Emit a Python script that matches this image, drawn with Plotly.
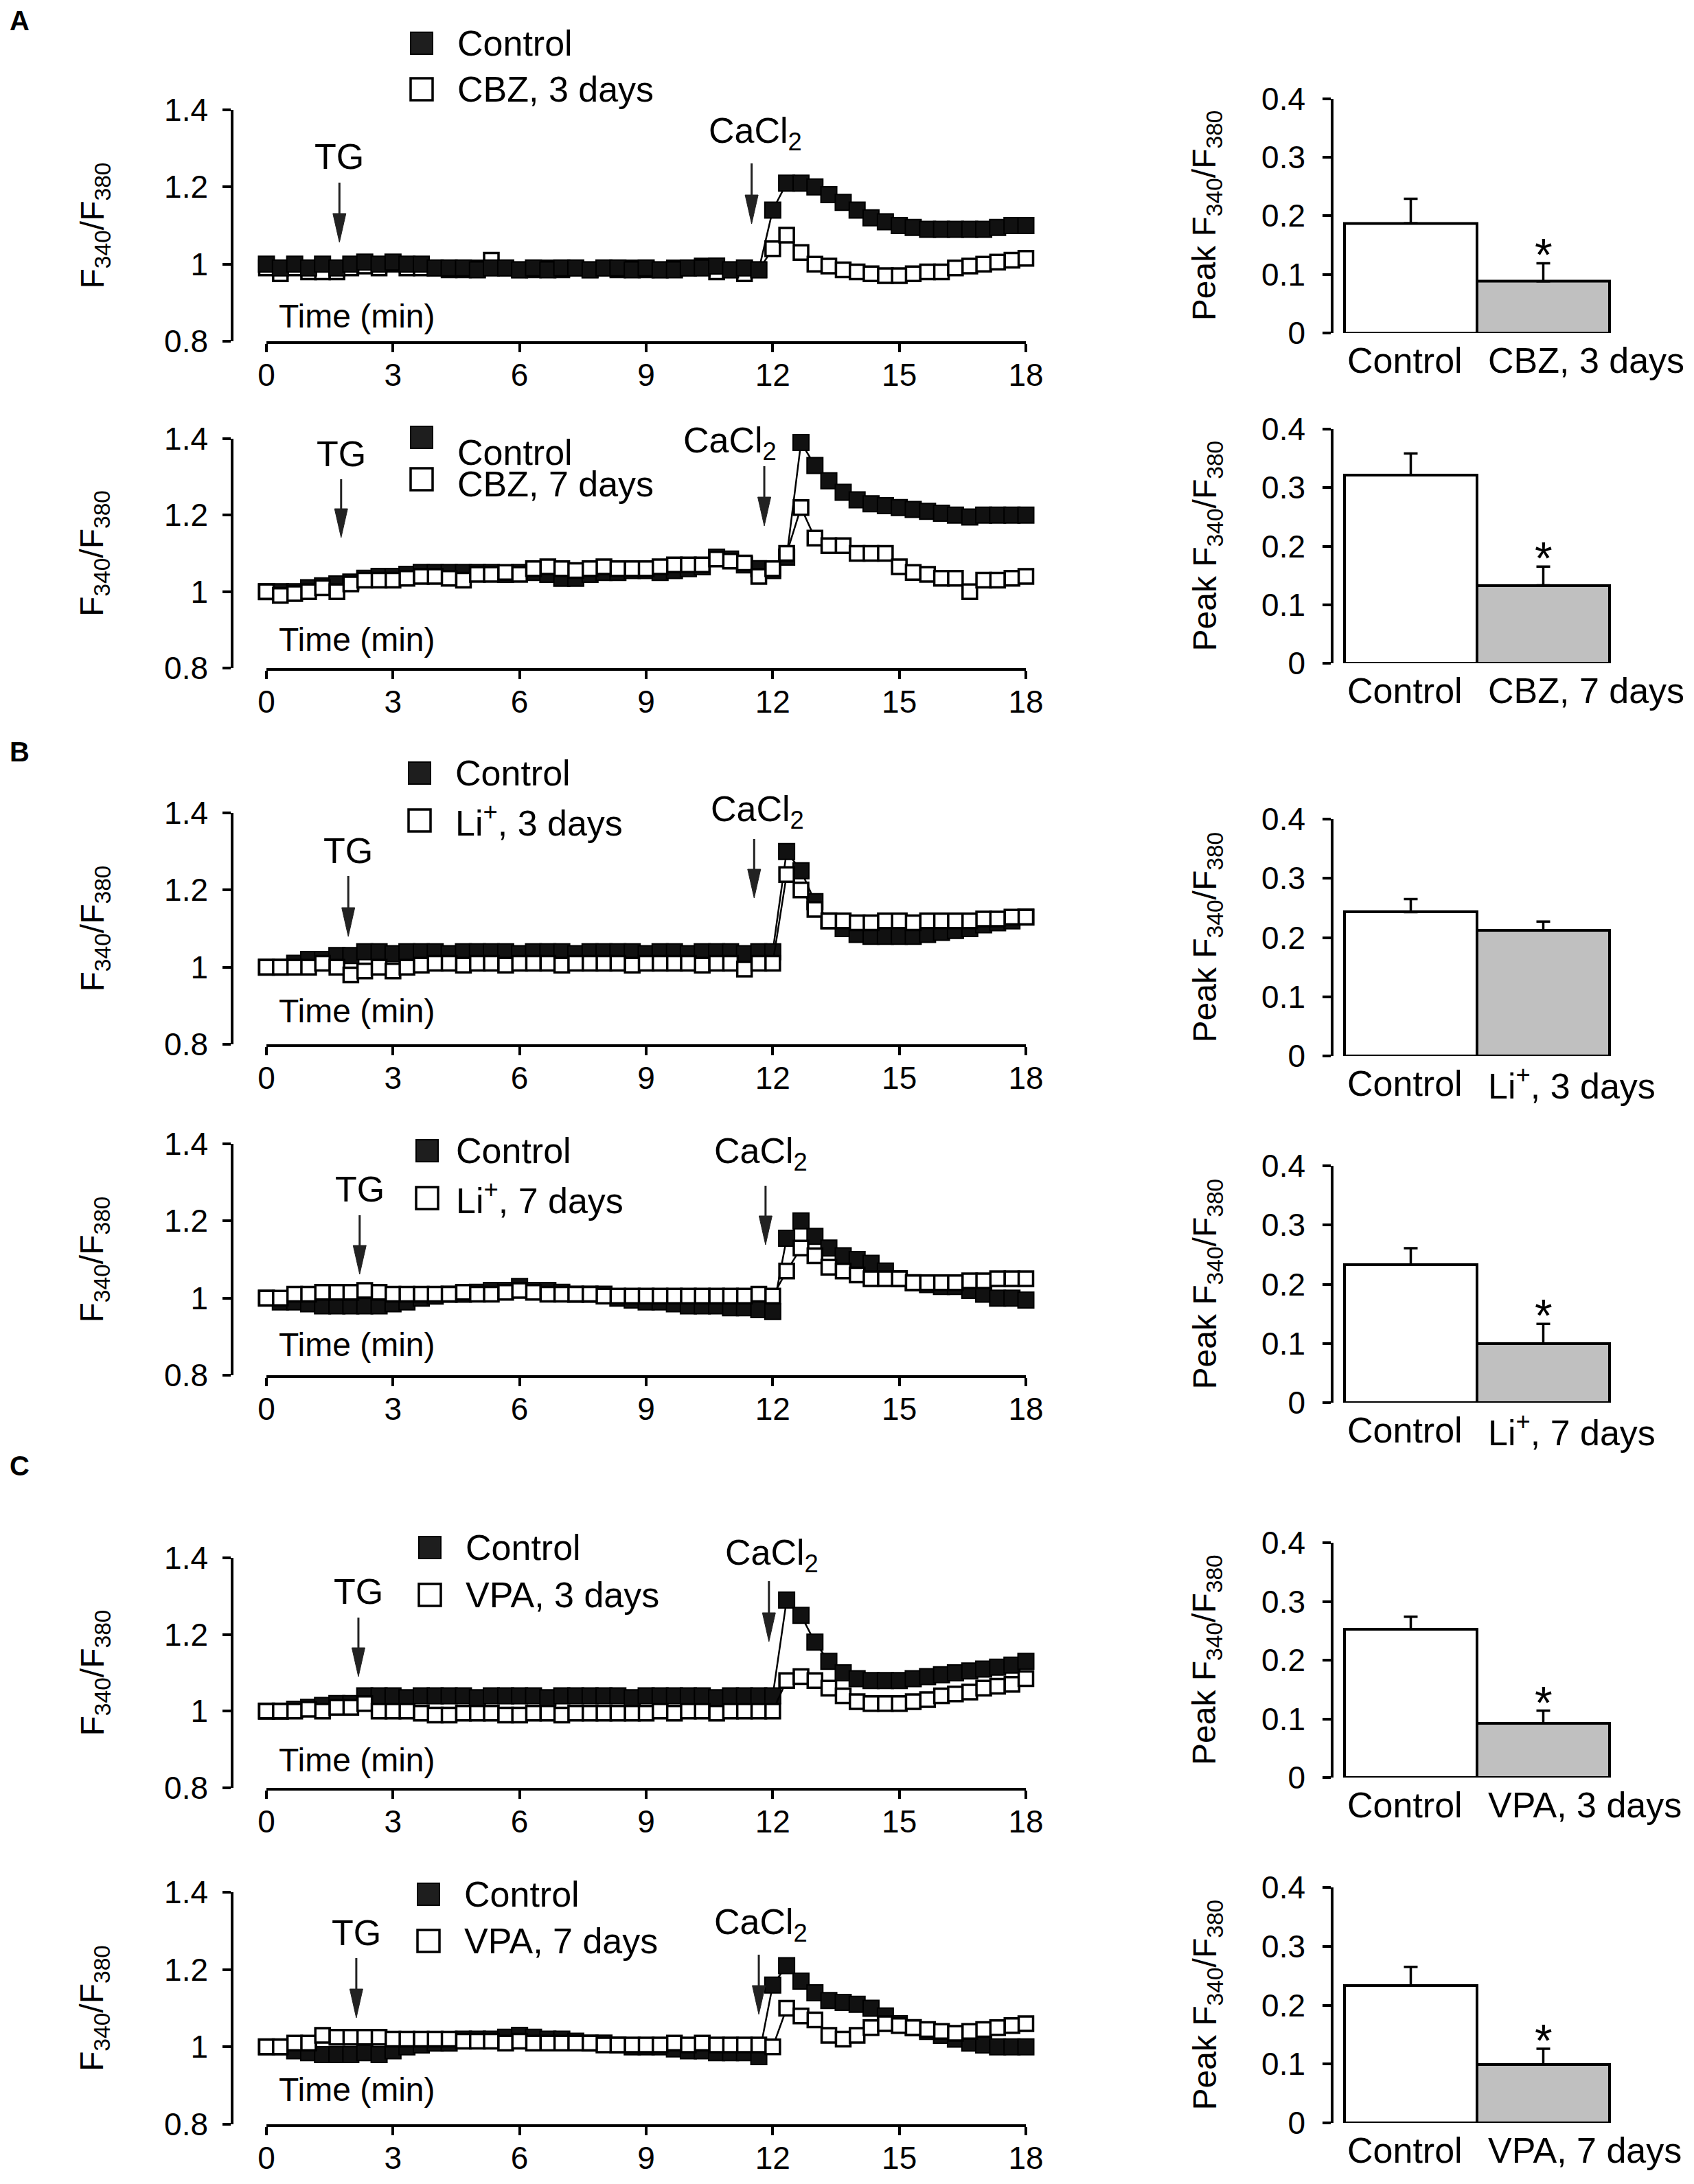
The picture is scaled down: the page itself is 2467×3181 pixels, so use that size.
import plotly.graph_objects as go

W, H = 2467, 3181
FONT = "Arial, Liberation Sans, sans-serif"

# sample times (min)
TIME = [0, 0.33, 0.67, 1, 1.33, 1.67, 2, 2.33, 2.67, 3, 3.33, 3.67, 4, 4.33, 4.67,
        5, 5.33, 5.67, 6, 6.33, 6.67, 7, 7.33, 7.67, 8, 8.33, 8.67, 9, 9.33, 9.67,
        10, 10.33, 10.67, 11, 11.33, 11.67, 12, 12.33, 12.67, 13, 13.33, 13.67, 14,
        14.33, 14.67, 15, 15.33, 15.67, 16, 16.33, 16.67, 17, 17.33, 17.67, 18, 18.33]

A1_CONTROL = [1.0, 0.99, 1.0, 0.99, 1.0, 0.99, 1.0, 1.005, 1.0, 1.005, 1.0, 1.0,
              0.99, 0.99, 0.99, 0.985, 0.99, 0.99, 0.985, 0.99, 0.985, 0.99, 0.99, 0.985,
              0.99, 0.99, 0.985, 0.99, 0.985, 0.985, 0.99, 0.99, 0.995, 0.985, 0.99, 0.985,
              1.14, 1.21, 1.21, 1.2, 1.18, 1.16, 1.14, 1.12, 1.11, 1.1, 1.095, 1.09, 1.09,
              1.09, 1.09, 1.09, 1.095, 1.1, 1.1, 1.105]
A1_DRUG = [0.99, 0.975, 0.99, 0.98, 0.98, 0.98, 0.99, 0.995, 0.99, 1.0, 0.99, 0.99,
           0.99, 0.985, 0.985, 0.99, 1.01, 0.99, 0.985, 0.985, 0.99, 0.985, 0.99, 0.985,
           0.99, 0.985, 0.99, 0.985, 0.985, 0.99, 0.99, 0.995, 0.98, 0.985, 0.975, 0.985,
           1.04, 1.075, 1.03, 1.0, 0.995, 0.985, 0.98, 0.975, 0.97, 0.97, 0.975, 0.98, 0.98,
           0.99, 0.995, 1.0, 1.005, 1.01, 1.015, 1.02]

A2_CONTROL = [1.0, 1.0, 1.0, 1.01, 1.015, 1.02, 1.025, 1.035, 1.04, 1.04, 1.045, 1.05,
              1.05, 1.05, 1.05, 1.05, 1.05, 1.045, 1.05, 1.05, 1.045, 1.035, 1.035, 1.045,
              1.05, 1.05, 1.055, 1.055, 1.05, 1.055, 1.06, 1.065, 1.09, 1.085, 1.07, 1.06,
              1.055, 1.09, 1.39, 1.33, 1.29, 1.26, 1.24, 1.23, 1.225, 1.22, 1.215, 1.21,
              1.205, 1.2, 1.195, 1.2, 1.2, 1.2, 1.2, 1.2]
A2_DRUG = [1.0, 0.99, 0.995, 1.0, 1.01, 1.0, 1.02, 1.03, 1.03, 1.03, 1.035, 1.04,
           1.04, 1.035, 1.03, 1.045, 1.045, 1.05, 1.045, 1.06, 1.065, 1.06, 1.055, 1.06,
           1.065, 1.06, 1.06, 1.06, 1.065, 1.07, 1.07, 1.07, 1.085, 1.08, 1.075, 1.04,
           1.06, 1.1, 1.22, 1.14, 1.12, 1.12, 1.1, 1.1, 1.1, 1.065, 1.05, 1.045, 1.035,
           1.035, 1.0, 1.03, 1.03, 1.035, 1.04, 1.045]

B1_CONTROL = [1.0, 1.0, 1.01, 1.02, 1.02, 1.03, 1.03, 1.04, 1.04, 1.035, 1.04, 1.04,
              1.04, 1.035, 1.04, 1.04, 1.04, 1.04, 1.035, 1.04, 1.04, 1.04, 1.035, 1.04,
              1.04, 1.04, 1.04, 1.035, 1.04, 1.04, 1.035, 1.04, 1.04, 1.04, 1.035, 1.04,
              1.04, 1.3, 1.25, 1.17, 1.12, 1.1, 1.085, 1.08, 1.08, 1.08, 1.08, 1.085, 1.09,
              1.095, 1.1, 1.11, 1.115, 1.12, 1.13, 1.14]
B1_DRUG = [1.0, 1.0, 1.0, 1.0, 1.01, 1.0, 0.98, 0.99, 1.0, 0.99, 1.0, 1.005,
           1.01, 1.01, 1.005, 1.01, 1.01, 1.005, 1.01, 1.01, 1.01, 1.005, 1.01, 1.01,
           1.01, 1.01, 1.005, 1.01, 1.01, 1.01, 1.01, 1.005, 1.01, 1.01, 0.995, 1.01,
           1.01, 1.24, 1.2, 1.15, 1.12, 1.12, 1.115, 1.115, 1.12, 1.12, 1.115, 1.12, 1.12,
           1.12, 1.12, 1.125, 1.125, 1.13, 1.13, 1.135]

B2_CONTROL = [1.0, 0.99, 0.99, 0.985, 0.98, 0.98, 0.98, 0.98, 0.98, 0.985, 0.99, 1.0,
              1.005, 1.01, 1.01, 1.015, 1.02, 1.02, 1.03, 1.02, 1.02, 1.015, 1.01, 1.01,
              1.01, 1.0, 0.995, 0.99, 0.99, 0.985, 0.98, 0.98, 0.98, 0.975, 0.975, 0.97,
              0.965, 1.155, 1.2, 1.16, 1.13, 1.11, 1.1, 1.09, 1.07, 1.05, 1.04, 1.035, 1.03,
              1.03, 1.02, 1.01, 1.0, 1.0, 0.995, 0.98]
B2_DRUG = [1.0, 1.0, 1.01, 1.01, 1.015, 1.015, 1.015, 1.02, 1.015, 1.01, 1.01, 1.01,
           1.01, 1.01, 1.015, 1.01, 1.01, 1.015, 1.02, 1.015, 1.01, 1.01, 1.01, 1.01,
           1.005, 1.005, 1.005, 1.005, 1.005, 1.005, 1.005, 1.005, 1.005, 1.005, 1.005, 1.01,
           1.005, 1.07, 1.13, 1.11, 1.08, 1.07, 1.06, 1.05, 1.05, 1.05, 1.04, 1.04, 1.04,
           1.04, 1.045, 1.045, 1.05, 1.05, 1.05, 1.055]

C1_CONTROL = [1.0, 1.0, 1.005, 1.01, 1.015, 1.02, 1.02, 1.04, 1.04, 1.04, 1.035, 1.04,
              1.04, 1.04, 1.04, 1.035, 1.04, 1.04, 1.04, 1.04, 1.035, 1.04, 1.04, 1.04,
              1.04, 1.04, 1.035, 1.04, 1.04, 1.04, 1.04, 1.04, 1.035, 1.04, 1.04, 1.04,
              1.04, 1.29, 1.25, 1.18, 1.13, 1.1, 1.085, 1.08, 1.08, 1.08, 1.085, 1.09, 1.095,
              1.1, 1.105, 1.11, 1.115, 1.12, 1.13, 1.14]
C1_DRUG = [1.0, 1.0, 1.0, 1.005, 1.0, 1.01, 1.01, 1.02, 1.0, 1.0, 1.0, 0.995,
           0.99, 0.99, 0.995, 0.995, 0.995, 0.99, 0.99, 0.995, 0.995, 0.99, 0.995, 0.995,
           0.995, 0.995, 0.995, 0.995, 1.0, 0.995, 1.0, 1.0, 0.995, 1.0, 1.0, 1.0,
           1.0, 1.08, 1.09, 1.08, 1.06, 1.04, 1.025, 1.02, 1.02, 1.02, 1.025, 1.03, 1.04,
           1.045, 1.05, 1.06, 1.065, 1.07, 1.085, 1.095]

C2_CONTROL = [1.0, 1.0, 0.99, 0.985, 0.98, 0.98, 0.98, 0.985, 0.98, 0.99, 1.0, 1.005,
              1.01, 1.01, 1.02, 1.02, 1.02, 1.025, 1.03, 1.025, 1.02, 1.02, 1.015, 1.01,
              1.01, 1.005, 1.0, 1.0, 1.0, 0.995, 0.99, 0.99, 0.985, 0.985, 0.985, 0.975,
              1.16, 1.21, 1.17, 1.14, 1.12, 1.115, 1.11, 1.1, 1.08, 1.06, 1.05, 1.04, 1.03,
              1.02, 1.01, 1.005, 1.0, 1.0, 1.0, 0.985]
C2_DRUG = [1.0, 1.0, 1.01, 1.01, 1.03, 1.025, 1.025, 1.025, 1.025, 1.02, 1.02, 1.02,
           1.02, 1.02, 1.015, 1.015, 1.015, 1.01, 1.015, 1.01, 1.01, 1.01, 1.01, 1.01,
           1.005, 1.005, 1.005, 1.005, 1.005, 1.01, 1.005, 1.01, 1.005, 1.005, 1.005, 1.005,
           1.0, 1.1, 1.08, 1.07, 1.03, 1.02, 1.03, 1.05, 1.06, 1.055, 1.05, 1.045, 1.04,
           1.035, 1.04, 1.045, 1.05, 1.055, 1.06, 1.07]

CONTROLS = [A1_CONTROL, A2_CONTROL, B1_CONTROL, B2_CONTROL, C1_CONTROL, C2_CONTROL]
DRUGS = [A1_DRUG, A2_DRUG, B1_DRUG, B2_DRUG, C1_DRUG, C2_DRUG]
DRUG_LABELS = ["CBZ, 3 days", "CBZ, 7 days", "Li<sup>+</sup>, 3 days",
               "Li<sup>+</sup>, 7 days", "VPA, 3 days", "VPA, 7 days"]
CONTROL_ON_TOP = [True, False, False, False, False, False]

# time of TG / CaCl2 additions (min)
TG_TIME = [1.73, 1.77, 1.94, 2.21, 2.18, 2.13]
CA_TIME = [11.5, 11.8, 11.56, 11.83, 11.91, 11.67]

# peak F340/F380 (mean, SEM)
PEAK_CONTROL = [0.187, 0.3215, 0.243, 0.233, 0.253, 0.233]
PEAK_DRUG = [0.088, 0.133, 0.212, 0.100, 0.092, 0.099]
SEM_CONTROL = [0.042, 0.037, 0.022, 0.028, 0.021, 0.032]
SEM_DRUG = [0.031, 0.032, 0.015, 0.033, 0.022, 0.027]
SIGNIFICANT = [True, True, False, True, True, True]

X_TICKS = [0, 3, 6, 9, 12, 15, 18]
Y_TICKS = [0.8, 1, 1.2, 1.4]
Y_TICK_TEXT = ["0.8", "1", "1.2", "1.4"]
BAR_TICKS = [0, 0.1, 0.2, 0.3, 0.4]
BAR_TICK_TEXT = ["0", "0.1", "0.2", "0.3", "0.4"]

# layout, in pixels of the full figure
LINE_TOP = [160, 639, 1184, 1666, 2269, 2756]
LINE_BOTTOM = [497, 973, 1521, 2003, 2604, 3094]
BAR_TOP = [143.5, 625, 1193, 1698, 2247, 2749]
BAR_BOTTOM = [485, 966, 1538, 2043, 2589, 3092]
TG_ARROW = [(266, 353), (698, 783), (1276, 1364), (1770, 1856), (2356, 2442), (2852, 2939)]
CA_ARROW = [(238, 326), (679, 766), (1222, 1308), (1727, 1813), (2303, 2391), (2847, 2934)]
TG_TEXT = [(494, 228), (497, 661), (507, 1239), (524, 1732), (522, 2318), (519, 2815)]
CA_TEXT = [(1100, 194), (1063, 645), (1103, 1182), (1108, 1680), (1124, 2265), (1108, 2803)]
LEG_MARK = [((614, 63), (614, 130)), ((614, 637), (614, 698)), ((611, 1126), (611, 1195)),
            ((622, 1676), (622, 1745)), ((626, 2254), (626, 2323)), ((624, 2759), (624, 2827))]
LEG_TEXT = [(664, 63, 130), (664, 659, 705), (661, 1126, 1195), (662, 1676, 1745),
            (676, 2254, 2323), (674, 2759, 2827)]
TIME_Y = [461, 931, 1472, 1958, 2563, 3043]

LX0, LX1, LYAX = 388, 1494, 338
BX0, BX1 = 1942, 2360
PX_PER_MIN = (LX1 - LX0) / 18.0


def fx(px):
    return px / W


def fy(py):
    return 1 - py / H


fig = go.Figure()
layout = {}
annotations = []
shapes = []

axis_style = dict(showline=True, linewidth=3.5, linecolor="black", ticks="outside",
                  ticklen=12, tickwidth=3.5, tickcolor="black", showgrid=False,
                  zeroline=False, automargin=False,
                  tickfont=dict(size=46, color="black", family=FONT))


def text(x, y, s, size=50, **kw):
    d = dict(x=x, y=y, xref="paper", yref="paper", text=s, showarrow=False,
             xanchor="center", yanchor="middle",
             font=dict(size=size, color="black", family=FONT))
    d.update(kw)
    annotations.append(d)


for i in range(6):
    n1, n2 = 2 * i + 1, 2 * i + 2
    lx, ly = ("x" if n1 == 1 else f"x{n1}"), ("y" if n1 == 1 else f"y{n1}")
    bx, by = f"x{n2}", f"y{n2}"
    top, bot = LINE_TOP[i], LINE_BOTTOM[i]
    y_per_px = 0.6 / (bot - top)

    ctrl = go.Scatter(x=TIME, y=CONTROLS[i], xaxis=lx, yaxis=ly, mode="lines+markers",
                      cliponaxis=False, showlegend=False,
                      line=dict(color="black", width=2.5),
                      marker=dict(symbol="square", size=23, color="#111111",
                                  line=dict(color="black", width=2)))
    drug = go.Scatter(x=TIME, y=DRUGS[i], xaxis=lx, yaxis=ly, mode="lines+markers",
                      cliponaxis=False, showlegend=False,
                      line=dict(color="black", width=2.5),
                      marker=dict(symbol="square", size=21, color="white",
                                  line=dict(color="black", width=3.5)))
    if CONTROL_ON_TOP[i]:
        fig.add_trace(drug)
        fig.add_trace(ctrl)
    else:
        fig.add_trace(ctrl)
        fig.add_trace(drug)

    layout["xaxis" if n1 == 1 else f"xaxis{n1}"] = dict(
        axis_style, domain=[fx(LX0), fx(LX1)], range=[0, 18], anchor=ly,
        tickvals=X_TICKS, ticklabelstandoff=-6)
    layout["yaxis" if n1 == 1 else f"yaxis{n1}"] = dict(
        axis_style, domain=[fy(bot), fy(top)], range=[0.8, 1.4], anchor="free",
        position=fx(LYAX), tickvals=Y_TICKS, ticktext=Y_TICK_TEXT, ticklabelstandoff=12)

    # arrows (TG and CaCl2)
    for t, (p_top, p_tip) in ((TG_TIME[i], TG_ARROW[i]), (CA_TIME[i], CA_ARROW[i])):
        y_top = 1.4 - (p_top - top) * y_per_px
        y_tip = 1.4 - (p_tip - top) * y_per_px
        y_base = y_tip + 42 * y_per_px
        hw = 9.5 / PX_PER_MIN
        shapes.append(dict(type="line", xref=lx, yref=ly, x0=t, x1=t, y0=y_top, y1=y_base,
                           line=dict(color="#222", width=3)))
        shapes.append(dict(type="path", xref=lx, yref=ly, fillcolor="#222",
                           line=dict(color="#222", width=1),
                           path=f"M {t - hw},{y_base} L {t + hw},{y_base} L {t},{y_tip} Z"))
    text(fx(TG_TEXT[i][0]), fy(TG_TEXT[i][1]), "TG", 52)
    text(fx(CA_TEXT[i][0]), fy(CA_TEXT[i][1]), "CaCl<sub>2</sub>", 52)

    # legend
    (c1, c2) = LEG_MARK[i]
    for (cx, cy), fill, lw in ((c1, "#1e1e1e", 2), (c2, "white", 3.5)):
        shapes.append(dict(type="rect", xref="paper", yref="paper",
                           x0=fx(cx - 16), x1=fx(cx + 16), y0=fy(cy + 16), y1=fy(cy - 16),
                           fillcolor=fill, line=dict(color="black", width=lw)))
    tx, ty1, ty2 = LEG_TEXT[i]
    text(fx(tx), fy(ty1), "Control", 52, xanchor="left")
    text(fx(tx), fy(ty2), DRUG_LABELS[i], 52, xanchor="left")

    text(fx(404), fy(TIME_Y[i]), "Time (min)", 48, xanchor="left")
    text(fx(137), fy((top + bot) / 2), "F<sub>340</sub>/F<sub>380</sub>", 48, textangle=-90)

    # bar chart
    btop, bbot = BAR_TOP[i], BAR_BOTTOM[i]
    fig.add_trace(go.Bar(
        x=[0, 1], y=[PEAK_CONTROL[i], PEAK_DRUG[i]], width=[1, 1], xaxis=bx, yaxis=by,
        showlegend=False,
        marker=dict(color=["white", "#c0c0c0"], line=dict(color="black", width=4)),
        error_y=dict(type="data", symmetric=False, array=[SEM_CONTROL[i], SEM_DRUG[i]],
                     arrayminus=[0, 0], color="black", thickness=3.5, width=10)))
    unit_px = (BX1 - BX0 - 32) / 2.0
    layout[f"xaxis{n2}"] = dict(domain=[fx(BX0), fx(BX1)], anchor=by, visible=False,
                                automargin=False,
                                range=[-0.5 - 16 / unit_px, 1.5 + 16 / unit_px])
    layout[f"yaxis{n2}"] = dict(axis_style, domain=[fy(bbot), fy(btop)], range=[0, 0.4],
                                anchor=bx, tickvals=BAR_TICKS, ticktext=BAR_TICK_TEXT,
                                ticklabelstandoff=16)
    text(fx(1960), fy(bbot + 40), "Control", 52, xanchor="left")
    text(fx(2165), fy(bbot + 40), DRUG_LABELS[i], 52, xanchor="left")
    text(fx(1757), fy((btop + bbot) / 2), "Peak F<sub>340</sub>/F<sub>380</sub>", 48,
         textangle=-90)
    if SIGNIFICANT[i]:
        annotations.append(dict(x=1, y=PEAK_DRUG[i] + SEM_DRUG[i], xref=bx, yref=by,
                                text="*", showarrow=False, xanchor="center",
                                yanchor="middle", yshift=12,
                                font=dict(size=66, color="black", family=FONT)))

for letter, py in (("A", 30), ("B", 1095), ("C", 2135)):
    text(fx(12), fy(py), f"<b>{letter}</b>", 40, xanchor="left")

fig.update_layout(
    layout,
    template="none",
    width=W, height=H, margin=dict(l=0, r=0, t=0, b=0, pad=0),
    paper_bgcolor="white", plot_bgcolor="white", showlegend=False,
    bargap=0, font=dict(family=FONT, color="black"),
    annotations=annotations, shapes=shapes,
)

fig.write_html("out.html", config={"displayModeBar": False},
               post_script="document.body.style.margin='0';")
